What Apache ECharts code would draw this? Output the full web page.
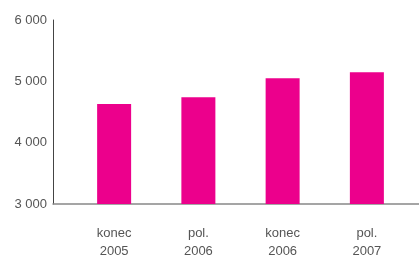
<!DOCTYPE html>
<html><head><meta charset="utf-8">
<script src="https://cdn.jsdelivr.net/npm/echarts@6/dist/echarts.min.js"></script>
<style>html,body{margin:0;padding:0;background:#fff}#c{width:419px;height:257px}</style>
</head><body><div id="c"></div>
<script>
const categories = ["konec\n2005", "pol.\n2006", "konec\n2006", "pol.\n2007"];
const values = [4630, 4740, 5050, 5150];
const yTicks = [3000, 4000, 5000, 6000];

const yMin = yTicks[0], yMax = yTicks[yTicks.length - 1];
const fmt = v => String(v).replace(/\B(?=(\d{3})+(?!\d))/g, ' ');
const chart = echarts.init(document.getElementById('c'), null, {renderer: 'canvas'});
chart.setOption({
  animation: false,
  textStyle: {fontFamily: 'Liberation Sans, Arial, sans-serif'},
  grid: [
    {left: 72, right: 10, top: 20, bottom: 53, outerBoundsMode: 'none', containLabel: false},
    {left: 53, right: 0, top: 20, bottom: 53, outerBoundsMode: 'none', containLabel: false}
  ],
  xAxis: [
    {type: 'category', gridIndex: 0, data: categories,
     axisLine: {show: false}, axisTick: {show: false},
     axisLabel: {color: '#555', fontSize: 13, lineHeight: 18, margin: 20}},
    {type: 'value', gridIndex: 1, min: 0, max: 1,
     axisLine: {show: true, onZero: false, lineStyle: {color: '#888', width: 1.5}},
     axisTick: {show: false}, axisLabel: {show: false}, splitLine: {show: false}}
  ],
  yAxis: [
    {type: 'value', gridIndex: 0, min: yMin, max: yMax, interval: 1000,
     axisLine: {show: false}, axisTick: {show: false}, axisLabel: {show: false}, splitLine: {show: false}},
    {type: 'value', gridIndex: 1, min: yMin, max: yMax, interval: 1000,
     axisLine: {show: true, lineStyle: {color: '#444', width: 1}},
     axisTick: {show: false}, splitLine: {show: false},
     axisLabel: {color: '#555', fontSize: 13, margin: 6, formatter: fmt}}
  ],
  series: [{
    type: 'bar', xAxisIndex: 0, yAxisIndex: 0, data: values,
    barWidth: 34, itemStyle: {color: '#EC008C'}
  }]
});
</script></body></html>
